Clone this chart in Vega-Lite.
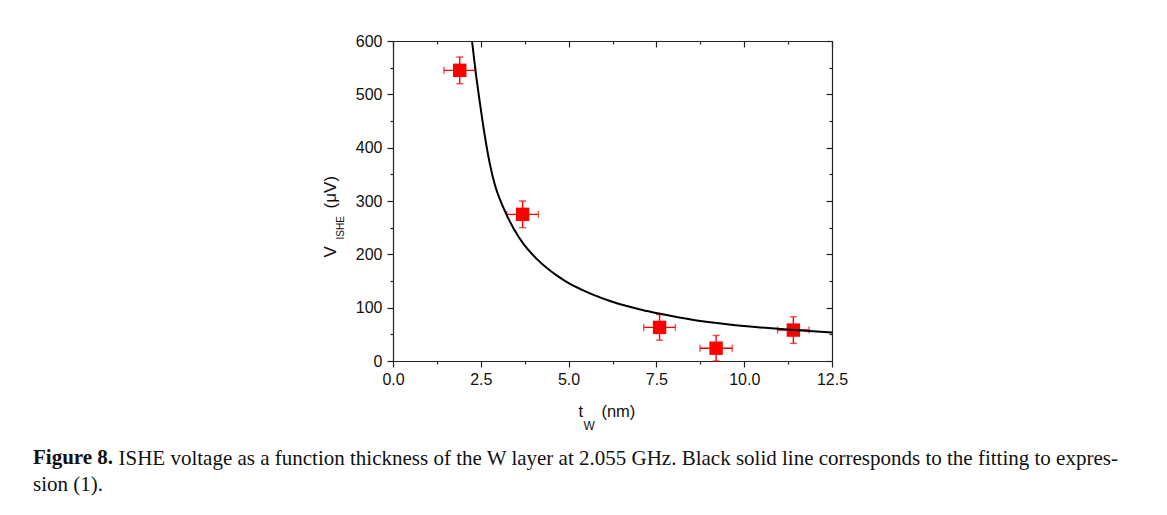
{
  "$schema": "https://vega.github.io/schema/vega-lite/v6.json",
  "width": 439,
  "height": 320,
  "autosize": {"type": "none"},
  "padding": {"left": 393, "top": 41, "right": 335, "bottom": 154},
  "background": "white",
  "config": {
    "view": {"stroke": null},
    "axis": {
      "grid": false,
      "domainColor": "#222222",
      "domainWidth": 1.2,
      "tickColor": "#222222",
      "tickWidth": 1.2,
      "labelFont": "Liberation Sans",
      "labelFontSize": 16,
      "labelColor": "#111111",
      "labelOverlap": false,
      "labelFlush": false,
      "labelBound": false,
      "titleFont": "Liberation Sans",
      "titleFontSize": 17,
      "titleFontWeight": "normal",
      "titleColor": "#111111"
    }
  },
  "title": {
    "text": "Figure 8.",
    "subtitle": "sion (1).",
    "orient": "bottom",
    "anchor": "start",
    "frame": "group",
    "dx": -360,
    "offset": -22,
    "font": "Liberation Serif",
    "fontSize": 21,
    "fontWeight": "bold",
    "color": "#111111",
    "subtitleFont": "Liberation Serif",
    "subtitleFontSize": 21,
    "subtitleFontWeight": "normal",
    "subtitleColor": "#111111",
    "subtitlePadding": 6
  },
  "datasets": {
    "pts": [
      {"t": 1.9, "v": 545, "terr": 0.45, "verr": 25},
      {"t": 3.69, "v": 275, "terr": 0.45, "verr": 25},
      {"t": 7.59, "v": 63, "terr": 0.45, "verr": 24},
      {"t": 9.2, "v": 24, "terr": 0.46, "verr": 24},
      {"t": 11.4, "v": 58, "terr": 0.45, "verr": 25}
    ],
    "fit": [
      {"t": 2.25, "v": 600},
      {"t": 2.34, "v": 549},
      {"t": 2.47, "v": 486},
      {"t": 2.61, "v": 424},
      {"t": 2.75, "v": 372},
      {"t": 2.91, "v": 328},
      {"t": 3.05, "v": 302},
      {"t": 3.2, "v": 279},
      {"t": 3.43, "v": 249},
      {"t": 3.72, "v": 219},
      {"t": 4.1, "v": 191},
      {"t": 4.67, "v": 160},
      {"t": 5.0, "v": 146},
      {"t": 5.43, "v": 132},
      {"t": 5.71, "v": 124},
      {"t": 6.2, "v": 112},
      {"t": 6.66, "v": 103},
      {"t": 7.1, "v": 95.5},
      {"t": 7.61, "v": 88.5},
      {"t": 8.56, "v": 77},
      {"t": 9.51, "v": 69},
      {"t": 10.46, "v": 63},
      {"t": 11.41, "v": 58},
      {"t": 12.5, "v": 53.5}
    ]
  },
  "layer": [
    {
      "data": {"name": "pts"},
      "mark": {"type": "errorbar", "ticks": {"size": 7, "color": "#ff0000", "strokeWidth": 1.4}, "color": "#ff0000", "thickness": 1.4},
      "encoding": {
        "x": {"field": "t", "type": "quantitative", "scale": {"domain": [0, 12.5], "nice": false, "zero": false}, "axis": null},
        "y": {"field": "v", "type": "quantitative", "scale": {"domain": [0, 600], "nice": false}, "axis": null},
        "yError": {"field": "verr"}
      }
    },
    {
      "data": {"name": "pts"},
      "mark": {"type": "errorbar", "ticks": {"size": 7, "color": "#ff0000", "strokeWidth": 1.4}, "color": "#ff0000", "thickness": 1.4},
      "encoding": {
        "y": {"field": "v", "type": "quantitative", "scale": {"domain": [0, 600], "nice": false}, "axis": null},
        "x": {
          "field": "t", "type": "quantitative",
          "scale": {"domain": [0, 12.5], "nice": false, "zero": false},
          "axis": {
            "orient": "bottom",
            "domain": false,
            "ticks": false,
            "labels": false,
            "title": "ISHE voltage as a function thickness of the W layer at 2.055 GHz. Black solid line corresponds to the fitting to expres-",
            "titleFont": "Liberation Serif",
            "titleFontSize": 21,
            "titleFontWeight": "normal",
            "titleX": -275,
            "titleY": 103.5,
            "titleAlign": "left",
            "titleBaseline": "alphabetic",
            "titleAngle": 0
          }
        },
        "xError": {"field": "terr"}
      }
    },
    {
      "data": {"name": "pts"},
      "mark": {"type": "square", "size": 180, "color": "#ff0000", "filled": true, "opacity": 1},
      "encoding": {
        "x": {
          "field": "t", "type": "quantitative",
          "scale": {"domain": [0, 12.5], "nice": false, "zero": false},
          "axis": {
            "orient": "bottom",
            "values": [0, 1.25, 2.5, 3.75, 5, 6.25, 7.5, 8.75, 10, 11.25, 12.5],
            "labelExpr": "datum.value % 2.5 === 0 ? format(datum.value, '.1f') : ''",
            "tickSize": {"condition": {"test": "datum.value % 2.5 === 0", "value": 6}, "value": 3},
            "labelPadding": 4,
            "title": "t\u00a0\u00a0\u00a0\u00a0(nm)",
            "titleFontSize": 16.5,
            "titleX": 185,
            "titleY": 55.5,
            "titleAlign": "left",
            "titleBaseline": "alphabetic",
            "titleAngle": 0
          }
        },
        "y": {
          "field": "v", "type": "quantitative",
          "scale": {"domain": [0, 600], "nice": false},
          "axis": {
            "orient": "left",
            "values": [0, 50, 100, 150, 200, 250, 300, 350, 400, 450, 500, 550, 600],
            "labelExpr": "datum.value % 100 === 0 ? format(datum.value, 'd') : ''",
            "tickSize": {"condition": {"test": "datum.value % 100 === 0", "value": 6}, "value": 3},
            "labelPadding": 5,
            "title": "V\u00a0\u00a0\u00a0\u00a0\u00a0\u00a0\u00a0\u00a0(\u03bcV)",
            "titleX": -58,
            "titleY": 216,
            "titleAngle": -90,
            "titleAlign": "left",
            "titleBaseline": "alphabetic"
          }
        }
      }
    },
    {
      "data": {"name": "fit"},
      "mark": {"type": "line", "color": "#000000", "strokeWidth": 2, "interpolate": "monotone"},
      "encoding": {
        "x": {
          "field": "t", "type": "quantitative",
          "scale": {"domain": [0, 12.5], "nice": false, "zero": false},
          "axis": {
            "orient": "top",
            "values": [0, 1.25, 2.5, 3.75, 5, 6.25, 7.5, 8.75, 10, 11.25, 12.5],
            "labels": false,
            "tickSize": {"condition": {"test": "datum.value % 2.5 === 0", "value": -6}, "value": -3},
            "title": "W",
            "titleFontSize": 12,
            "titleX": 190,
            "titleY": 388,
            "titleAlign": "left",
            "titleBaseline": "alphabetic",
            "titleAngle": 0
          }
        },
        "y": {
          "field": "v", "type": "quantitative",
          "scale": {"domain": [0, 600], "nice": false},
          "axis": {
            "orient": "right",
            "values": [0, 50, 100, 150, 200, 250, 300, 350, 400, 450, 500, 550, 600],
            "labels": false,
            "tickSize": {"condition": {"test": "datum.value % 100 === 0", "value": -6}, "value": -3},
            "title": "ISHE",
            "titleFontSize": 10,
            "titleX": -489,
            "titleY": 198,
            "titleAngle": -90,
            "titleAlign": "left",
            "titleBaseline": "alphabetic"
          }
        }
      }
    }
  ],
  "resolve": {"axis": {"x": "independent", "y": "independent"}}
}
